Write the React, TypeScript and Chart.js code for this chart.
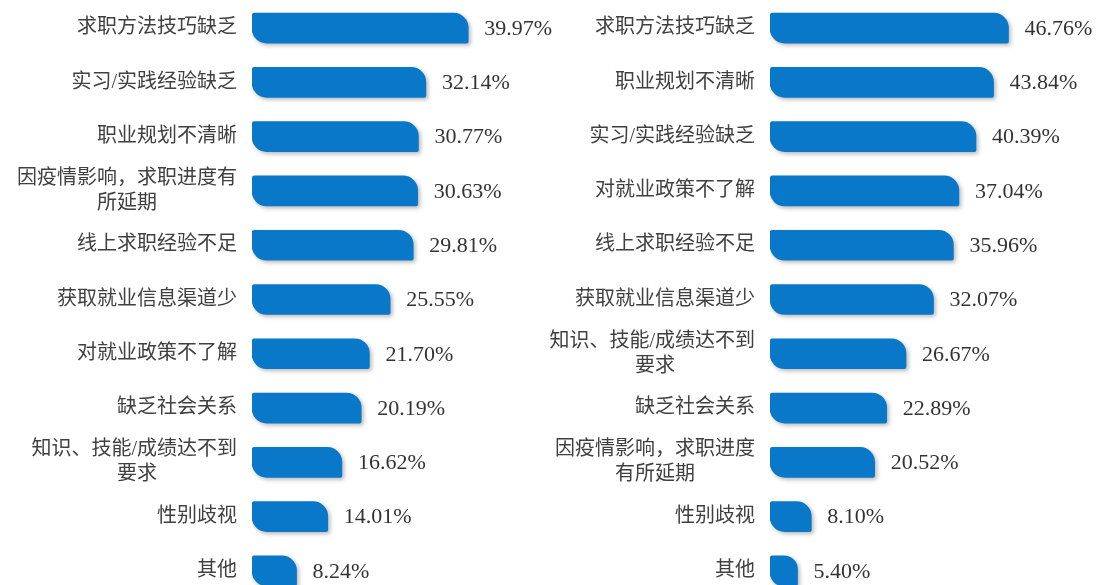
import React, { useEffect, useRef } from "react";
import { Chart, registerables } from "chart.js";

Chart.register(...registerables);

const leftCategories: (string | string[])[] = [
  "求职方法技巧缺乏",
  "实习/实践经验缺乏",
  "职业规划不清晰",
  ["因疫情影响，求职进度有", "所延期"],
  "线上求职经验不足",
  "获取就业信息渠道少",
  "对就业政策不了解",
  "缺乏社会关系",
  ["知识、技能/成绩达不到", "要求"],
  "性别歧视",
  "其他",
];
const leftValues = [39.97, 32.14, 30.77, 30.63, 29.81, 25.55, 21.7, 20.19, 16.62, 14.01, 8.24];

const rightCategories: (string | string[])[] = [
  "求职方法技巧缺乏",
  "职业规划不清晰",
  "实习/实践经验缺乏",
  "对就业政策不了解",
  "线上求职经验不足",
  "获取就业信息渠道少",
  ["知识、技能/成绩达不到", "要求"],
  "缺乏社会关系",
  ["因疫情影响，求职进度", "有所延期"],
  "性别歧视",
  "其他",
];
const rightValues = [46.76, 43.84, 40.39, 37.04, 35.96, 32.07, 26.67, 22.89, 20.52, 8.1, 5.4];

const FONT = "'Liberation Serif', 'Noto Sans CJK SC', serif";
const BAR_COLOR = "#0a78c8";

function textUnits(s: string): number {
  let w = 0;
  for (const ch of s) w += ch === "/" ? 0.5 : 1;
  return w;
}

function centerLines(label: string | string[]): string | string[] {
  if (!Array.isArray(label)) return label;
  const maxW = Math.max(...label.map(textUnits));
  return label.map((l) => {
    const pad = Math.round((maxW - textUnits(l)) / 2);
    return pad > 0 ? l + "\u3000".repeat(pad) : l;
  });
}

const shadowPlugin = {
  id: "barShadow",
  beforeDatasetsDraw(chart: any) {
    const ctx = chart.ctx;
    ctx.save();
    ctx.shadowColor = "rgba(0,0,0,0.28)";
    ctx.shadowBlur = 4;
    ctx.shadowOffsetX = 2;
    ctx.shadowOffsetY = 2;
  },
  afterDatasetsDraw(chart: any) {
    chart.ctx.restore();
  },
};

const valueLabelPlugin = {
  id: "valueLabels",
  afterDraw(chart: any) {
    const ctx = chart.ctx;
    const meta = chart.getDatasetMeta(0);
    const data = chart.data.datasets[0].data as number[];
    ctx.save();
    ctx.font = `22px ${FONT}`;
    ctx.fillStyle = "#333333";
    ctx.textAlign = "left";
    ctx.textBaseline = "middle";
    meta.data.forEach((el: any, i: number) => {
      ctx.fillText(data[i].toFixed(2) + "%", el.x + 16, el.y + 1);
    });
    ctx.restore();
  },
};

function makeConfig(
  categories: (string | string[])[],
  values: number[],
  axisWidth: number,
  padRight: number
): any {
  return {
    type: "bar",
    data: {
      labels: categories,
      datasets: [
        {
          data: values,
          backgroundColor: BAR_COLOR,
          borderSkipped: false,
          borderWidth: 0,
          borderRadius: { topLeft: 3, topRight: 15, bottomLeft: 15, bottomRight: 2 },
          barThickness: 30,
        },
      ],
    },
    options: {
      indexAxis: "y",
      responsive: false,
      animation: false,
      layout: { padding: { top: 1, bottom: 2, left: 0, right: padRight } },
      plugins: {
        legend: { display: false },
        tooltip: { enabled: false },
        title: { display: false },
      },
      scales: {
        x: {
          display: false,
          min: 0,
          max: 50,
        },
        y: {
          grid: { display: false, drawTicks: false },
          border: { display: false },
          afterFit(scale: any) {
            scale.width = axisWidth;
            scale.paddingTop = 0;
            scale.paddingBottom = 0;
          },
          ticks: {
            autoSkip: false,
            padding: 15,
            color: "#404040",
            font: { family: FONT, size: 20, lineHeight: 1.25 },
            callback(this: any, value: any) {
              return centerLines(this.getLabelForValue(value) as any);
            },
          },
        },
      },
    },
    plugins: [shadowPlugin, valueLabelPlugin],
  };
}

function BarPanel(props: {
  categories: (string | string[])[];
  values: number[];
  left: number;
  width: number;
  axisWidth: number;
  padRight: number;
}) {
  const ref = useRef<HTMLCanvasElement | null>(null);
  useEffect(() => {
    if (!ref.current) return;
    const chart = new Chart(
      ref.current,
      makeConfig(props.categories, props.values, props.axisWidth, props.padRight)
    );
    return () => chart.destroy();
  }, []);
  return (
    <canvas
      ref={ref}
      width={props.width}
      height={600}
      style={{
        position: "absolute",
        left: props.left,
        top: 0,
        width: props.width,
        height: 600,
        display: "block",
      }}
    />
  );
}

export default function App() {
  return (
    <div
      style={{
        position: "fixed",
        left: 0,
        top: 0,
        width: 1097,
        height: 585,
        overflow: "hidden",
        background: "#ffffff",
      }}
    >
      <BarPanel
        categories={leftCategories}
        values={leftValues}
        left={0}
        width={620}
        axisWidth={252}
        padRight={97.5}
      />
      <BarPanel
        categories={rightCategories}
        values={rightValues}
        left={548}
        width={549}
        axisWidth={222}
        padRight={72}
      />
    </div>
  );
}
